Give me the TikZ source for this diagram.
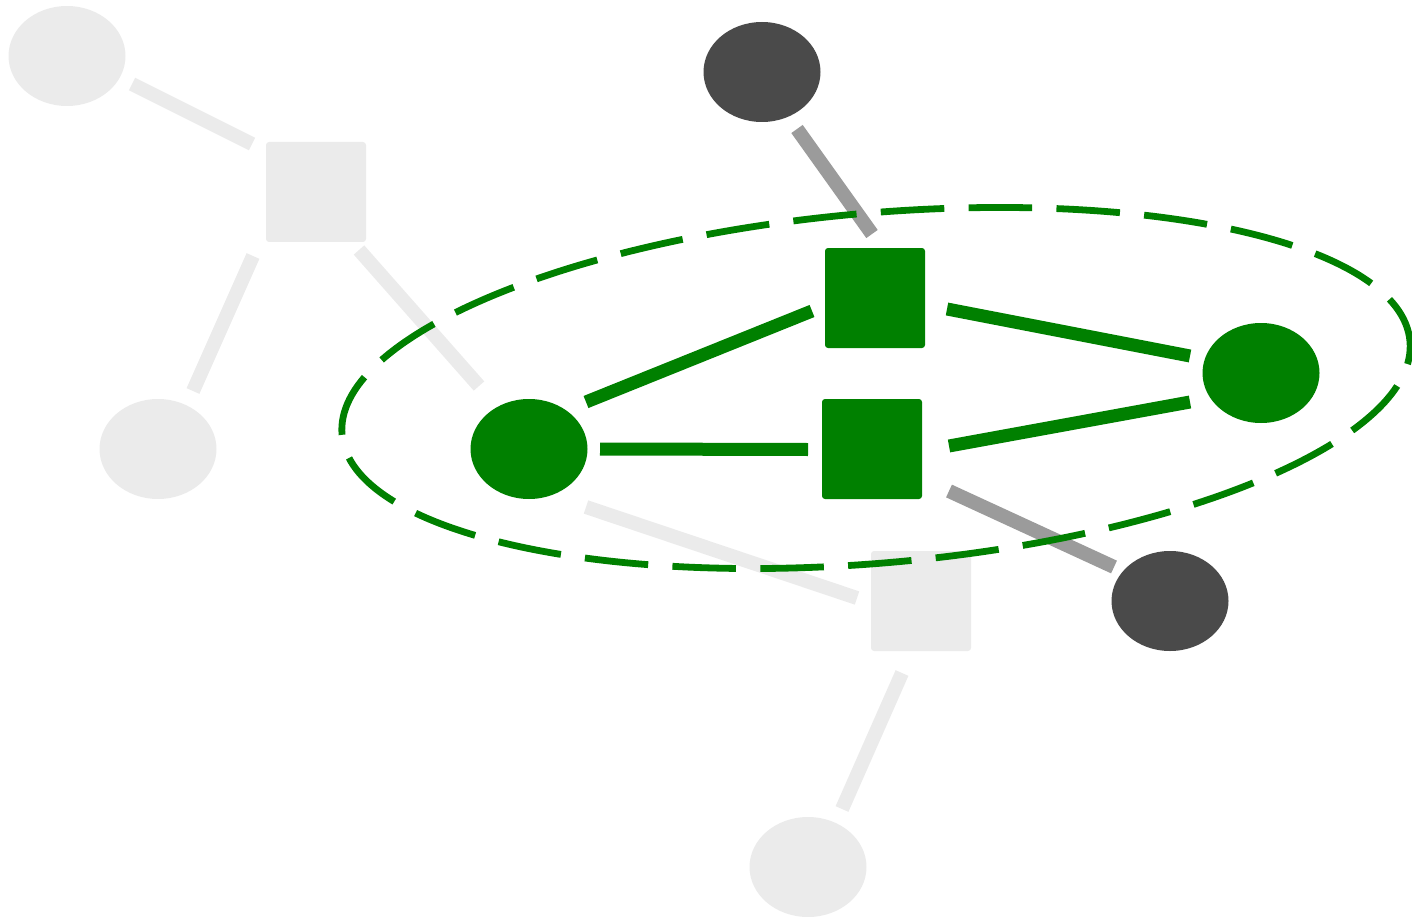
\documentclass[tikz,border=0pt]{standalone}
\usetikzlibrary{shapes.geometric,calc}
\definecolor{gr}{HTML}{008000}
\definecolor{lt}{HTML}{EBEBEB}
\definecolor{dk}{HTML}{4A4A4A}
\definecolor{md}{HTML}{9B9B9B}
\begin{document}
\begin{tikzpicture}[x=1pt,y=-1pt,
  ell/.style={ellipse,minimum width=117pt,minimum height=100pt,inner sep=0pt},
  sq/.style={rectangle,minimum width=100pt,minimum height=100pt,inner sep=0pt,rounded corners=3pt},
  lte/.style={draw=lt,line width=14pt},
  mde/.style={draw=md,line width=14pt},
  gre/.style={draw=gr,line width=13pt}]
\useasboundingbox (0,0) rectangle (1412,917);
% nodes
\node[ell,fill=lt] (a) at (67,56) {};
\node[sq,fill=lt] (b) at (316,192) {};
\node[ell,fill=lt] (c) at (158,449) {};
\node[ell,fill=dk] (d) at (762,72) {};
\node[sq,fill=gr] (s1) at (875,298) {};
\node[sq,fill=gr] (s2) at (872,449) {};
\node[ell,fill=gr] (gl) at (529,449) {};
\node[ell,fill=gr] (gr1) at (1261,373) {};
\node[ell,fill=dk] (e) at (1170,601) {};
\node[sq,fill=lt] (f) at (921,601) {};
\node[ell,fill=lt] (g) at (808,867) {};
% edges
\draw[lte] ($(a)+(65,28)$) -- ($(b)+(-64,-48)$);
\draw[lte] ($(b)+(-63,64)$) -- ($(c)+(35,-58)$);
\draw[lte] ($(b)+(43,58)$) -- ($(gl)+(-50,-63)$);
\draw[lte] ($(gl)+(57,58)$) -- ($(f)+(-64,-3)$);
\draw[lte] ($(f)+(-19,72)$) -- ($(g)+(34,-58)$);
\draw[mde] ($(d)+(35,57)$) -- ($(s1)+(-3,-64)$);
\draw[mde] ($(s2)+(77,42)$) -- ($(e)+(-56,-34)$);
\draw[gre] ($(gl)+(57,-47)$) -- ($(s1)+(-63,13)$);
\draw[gre] ($(gl)+(71,0)$) -- ($(s2)+(-64,0.5)$);
\draw[gre] ($(s1)+(72,11)$) -- ($(gr1)+(-71,-17)$);
\draw[gre] ($(s2)+(77,-3)$) -- ($(gr1)+(-71,29)$);
% dashed group ellipse
\node[ellipse,draw=gr,line width=6.8pt,dash pattern=on 63.6pt off 24.3pt,dash phase=16pt,
  minimum width=1072pt,minimum height=350pt,inner sep=0pt,rotate=5] (ring) at (876,388) {};
\end{tikzpicture}
\end{document}
